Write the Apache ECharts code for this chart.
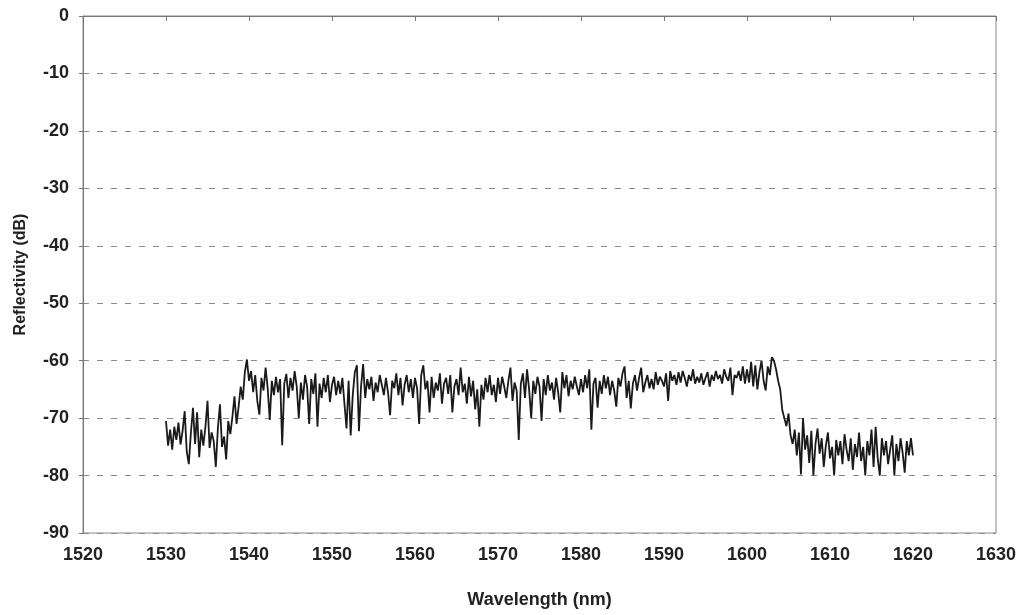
<!DOCTYPE html>
<html>
<head>
<meta charset="utf-8">
<script src="https://cdn.jsdelivr.net/npm/echarts@6/dist/echarts.min.js"></script>
<style>html,body{margin:0;padding:0;background:#fff}#c{width:1024px;height:615px}</style>
</head>
<body>
<div id="c"></div>
<script>
// Wavelength sampling: start and step (nm)
const wlStart = 1530;
const wlStep = 0.25;
// Reflectivity (dB), 4 samples per nm from 1530 to 1620
const reflectivity = [
 -70.5,-74.8,-72.0,-75.5,
 -71.5,-73.8,-70.8,-74.6,
 -72.2,-68.8,-75.8,-78.0,
 -72.5,-68.2,-74.5,-69.0,
 -76.8,-72.0,-74.8,-71.5,
 -67.0,-75.2,-72.5,-74.0,
 -78.5,-71.8,-67.6,-75.0,
 -73.2,-77.2,-70.5,-72.8,
 -69.8,-66.2,-71.0,-68.0,
 -64.5,-66.8,-62.0,-59.8,
 -63.5,-61.8,-65.5,-62.5,
 -67.0,-69.4,-63.0,-65.2,
 -61.2,-64.8,-70.3,-63.5,
 -66.0,-62.8,-65.5,-63.2,
 -74.7,-64.0,-62.3,-66.5,
 -63.0,-65.2,-61.8,-64.5,
 -70.0,-63.8,-66.8,-62.5,
 -64.5,-71.0,-63.2,-65.8,
 -62.2,-71.5,-64.0,-66.5,
 -63.0,-65.5,-62.5,-67.2,
 -64.2,-62.8,-66.0,-63.5,
 -65.8,-63.0,-67.5,-71.8,
 -63.5,-73.0,-66.0,-62.0,
 -60.8,-72.3,-64.5,-60.6,
 -66.5,-63.2,-65.0,-62.8,
 -67.0,-63.8,-65.5,-62.5,
 -64.2,-66.0,-63.0,-65.5,
 -69.5,-63.5,-64.8,-62.2,
 -66.0,-63.0,-67.8,-64.2,
 -62.5,-65.5,-63.2,-66.5,
 -63.0,-64.8,-71.0,-62.5,
 -60.8,-65.0,-63.5,-69.0,
 -62.8,-66.5,-63.8,-65.2,
 -62.2,-67.5,-64.0,-63.0,
 -65.8,-62.5,-69.0,-64.5,
 -63.2,-66.0,-61.2,-65.5,
 -64.0,-67.5,-62.8,-66.2,
 -63.5,-68.5,-65.0,-71.5,
 -64.2,-66.8,-63.0,-65.5,
 -62.5,-66.0,-64.2,-67.2,
 -63.0,-65.8,-62.8,-64.5,
 -66.5,-63.5,-61.2,-67.0,
 -63.8,-65.2,-73.8,-64.0,
 -62.2,-66.5,-61.5,-65.0,
 -70.0,-63.5,-65.8,-62.8,
 -64.5,-70.5,-63.2,-66.0,
 -62.5,-65.2,-63.8,-66.8,
 -63.0,-65.5,-69.0,-62.0,
 -64.8,-62.5,-66.2,-63.5,
 -65.0,-62.8,-64.5,-66.0,
 -63.2,-65.5,-62.5,-64.8,
 -61.5,-72.0,-64.0,-63.0,
 -68.2,-63.5,-65.8,-62.5,
 -64.8,-62.8,-66.0,-63.5,
 -65.2,-68.0,-63.0,-64.5,
 -62.2,-61.0,-66.5,-63.5,
 -68.3,-64.0,-62.5,-65.2,
 -63.0,-61.2,-65.5,-63.8,
 -62.5,-64.8,-63.2,-65.0,
 -62.0,-64.2,-62.8,-63.5,
 -64.5,-62.2,-67.0,-61.8,
 -63.5,-62.5,-64.2,-62.0,
 -63.8,-61.8,-63.0,-64.5,
 -62.5,-63.5,-61.5,-64.0,
 -62.8,-63.8,-62.2,-64.2,
 -63.0,-62.0,-64.5,-62.5,
 -63.5,-61.8,-63.2,-62.5,
 -64.0,-61.5,-62.8,-63.5,
 -61.2,-66.0,-62.5,-63.0,
 -61.8,-63.5,-61.0,-64.0,
 -61.5,-63.8,-60.2,-64.5,
 -60.8,-65.0,-62.0,-60.0,
 -63.5,-65.2,-61.0,-62.5,
 -59.4,-60.0,-61.5,-63.5,
 -65.0,-68.6,-70.0,-71.4,
 -69.2,-73.0,-74.5,-72.0,
 -76.5,-72.5,-79.8,-70.0,
 -75.5,-73.0,-77.8,-72.2,
 -80.0,-74.5,-71.8,-76.2,
 -73.5,-78.5,-74.8,-72.5,
 -77.0,-75.0,-80.0,-73.8,
 -76.5,-74.0,-78.0,-72.8,
 -75.5,-77.5,-73.5,-79.0,
 -74.5,-76.8,-72.5,-77.5,
 -75.0,-80.0,-74.0,-76.5,
 -72.0,-78.5,-71.5,-77.0,
 -80.0,-73.5,-76.5,-74.0,
 -78.0,-75.5,-73.0,-80.0,
 -74.5,-77.5,-73.5,-76.0,
 -79.5,-74.0,-76.5,-73.5,
 -76.5
];
const xTicks = [1520,1530,1540,1550,1560,1570,1580,1590,1600,1610,1620,1630];
const yTicks = [0,-10,-20,-30,-40,-50,-60,-70,-80,-90];

const seriesData = reflectivity.map((v, i) => [wlStart + i * wlStep, v]);
const txt = '#222';
const font = 'Liberation Sans, Arial, sans-serif';

const chart = echarts.init(document.getElementById('c'), null, {renderer: 'canvas'});
chart.setOption({
  animation: false,
  backgroundColor: '#fff',
  grid: {left: 83, right: 28, top: 16, bottom: 82, show: true, borderColor: '#888', borderWidth: 1},
  xAxis: {
    type: 'value', min: xTicks[0], max: xTicks[xTicks.length-1], interval: 10,
    name: 'Wavelength (nm)', nameLocation: 'middle', nameGap: 58,
    nameTextStyle: {fontFamily: font, fontWeight: 'bold', fontSize: 18, color: txt},
    axisLine: {lineStyle: {color: '#777'}},
    axisTick: {show: true, length: 5, lineStyle: {color: '#777'}},
    axisLabel: {fontFamily: font, fontWeight: 'bold', fontSize: 18, color: txt, margin: 13,
      formatter: v => String(v)},
    splitLine: {show: false}
  },
  yAxis: {
    type: 'value', min: yTicks[yTicks.length-1], max: yTicks[0], interval: 10,
    name: 'Reflectivity (dB)', nameLocation: 'middle', nameGap: 54, nameRotate: 90,
    nameTextStyle: {fontFamily: font, fontWeight: 'bold', fontSize: 16, color: txt},
    axisLine: {show: true, lineStyle: {color: '#777'}},
    axisTick: {show: true, length: 4, lineStyle: {color: '#777'}},
    axisLabel: {fontFamily: font, fontWeight: 'bold', fontSize: 18, color: txt, margin: 14,
      formatter: v => String(v)},
    splitLine: {show: true, lineStyle: {color: '#8a8a8a', type: [6, 8], width: 1}}
  },
  series: [{
    type: 'line', data: seriesData, showSymbol: false, symbol: 'none',
    lineStyle: {color: '#1a1a1a', width: 1.8}
  }]
});
</script>
</body>
</html>
